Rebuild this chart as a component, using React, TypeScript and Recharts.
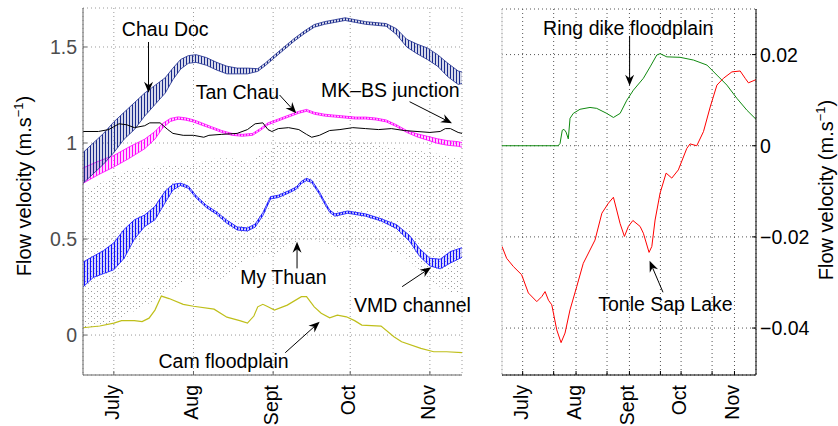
import React from "react";
import {
  ComposedChart,
  Area,
  Line,
  XAxis,
  YAxis,
  CartesianGrid,
  ReferenceLine,
  ReferenceDot,
} from "recharts";

const FONT = '"Liberation Sans", Arial, Helvetica, sans-serif';

// x values are day of year (June 19 = 170, Nov 13 ~ 317)
const monthTicks = [182, 213, 244, 274, 305];
const rightTicks = [182, 200, 213, 231, 244, 262, 274, 292, 305];
const monthNames: Record<number, string> = {
  182: "July",
  213: "Aug",
  244: "Sept",
  274: "Oct",
  305: "Nov",
};

// Chau Doc (tidal band: low / high envelope)
const chauDays = [170, 174, 178, 182, 186, 190, 194, 198, 202, 205, 208, 211, 214, 218, 222, 226, 230, 234, 238, 241, 244, 248, 252, 256, 260, 264, 268, 272, 276, 280, 284, 288, 292, 296, 300, 304, 308, 312, 316, 317.5];
const chauLo = [0.79, 0.84, 0.89, 0.95, 1.02, 1.07, 1.14, 1.2, 1.26, 1.33, 1.385, 1.415, 1.42, 1.405, 1.38, 1.36, 1.36, 1.36, 1.373, 1.403, 1.438, 1.483, 1.528, 1.568, 1.603, 1.618, 1.628, 1.638, 1.628, 1.618, 1.613, 1.608, 1.565, 1.5, 1.465, 1.435, 1.4, 1.345, 1.305, 1.31];
const chauHi = [0.95, 1.0, 1.05, 1.11, 1.16, 1.21, 1.26, 1.3, 1.34, 1.39, 1.435, 1.455, 1.46, 1.445, 1.42, 1.4, 1.39, 1.39, 1.387, 1.417, 1.452, 1.497, 1.542, 1.582, 1.617, 1.632, 1.642, 1.652, 1.642, 1.632, 1.627, 1.622, 1.595, 1.54, 1.515, 1.495, 1.46, 1.415, 1.375, 1.37];

// Tan Chau
const tanDays = [170, 176, 182, 188, 194, 198, 201, 204, 207, 210, 213, 216, 220, 224, 228, 232, 236, 239, 242, 246, 250, 254, 257, 260, 264, 268, 272, 276, 280, 284, 288, 292, 296, 300, 304, 308, 312, 316, 317.5];
const tanLo = [0.79, 0.835, 0.875, 0.92, 0.97, 1.02, 1.078, 1.112, 1.124, 1.119, 1.109, 1.094, 1.075, 1.055, 1.04, 1.035, 1.04, 1.065, 1.095, 1.115, 1.135, 1.155, 1.165, 1.15, 1.14, 1.135, 1.13, 1.125, 1.125, 1.12, 1.11, 1.085, 1.055, 1.032, 1.015, 0.998, 0.988, 0.983, 0.978];
const tanHi = [0.87, 0.905, 0.935, 0.98, 1.02, 1.06, 1.102, 1.128, 1.136, 1.131, 1.121, 1.106, 1.085, 1.065, 1.05, 1.045, 1.05, 1.075, 1.105, 1.125, 1.145, 1.165, 1.175, 1.16, 1.15, 1.145, 1.14, 1.135, 1.135, 1.13, 1.12, 1.095, 1.065, 1.048, 1.035, 1.022, 1.012, 1.007, 1.002];

// MK-BS junction
const mkDays = [170, 176, 180, 184, 187, 190, 194, 196, 200, 203, 205, 209, 213, 217, 219, 224, 230, 234, 237, 240, 242, 243.5, 246, 250, 254, 257, 259, 262, 266, 270, 275, 280, 285, 290, 295, 300, 305, 309, 311, 313, 316, 317.5];
const mkVals = [1.06, 1.06, 1.07, 1.1, 1.095, 1.08, 1.09, 1.105, 1.105, 1.07, 1.05, 1.04, 1.04, 1.03, 1.04, 1.045, 1.05, 1.07, 1.1, 1.105, 1.07, 1.06, 1.075, 1.08, 1.07, 1.045, 1.03, 1.04, 1.065, 1.07, 1.08, 1.075, 1.07, 1.075, 1.065, 1.06, 1.055, 1.06, 1.075, 1.075, 1.055, 1.05];

// VMD channel
const vmdDays = [170, 174, 178, 182, 186, 190, 194, 198, 202, 205, 208, 211, 214, 218, 222, 226, 230, 234, 237, 240, 243, 246, 250, 253, 255, 257, 259, 262, 264, 266, 268, 273, 280, 286, 292, 297, 301, 305, 309, 313, 317.5];
const vmdLo = [0.25, 0.3, 0.32, 0.34, 0.4, 0.5, 0.565, 0.6, 0.69, 0.755, 0.779, 0.764, 0.714, 0.664, 0.629, 0.582, 0.547, 0.542, 0.562, 0.622, 0.709, 0.716, 0.739, 0.759, 0.789, 0.804, 0.794, 0.734, 0.684, 0.639, 0.619, 0.634, 0.619, 0.594, 0.555, 0.49, 0.41, 0.36, 0.345, 0.375, 0.405];
const vmdHi = [0.38, 0.41, 0.44, 0.48, 0.55, 0.6, 0.625, 0.67, 0.75, 0.785, 0.791, 0.776, 0.726, 0.676, 0.641, 0.598, 0.563, 0.558, 0.578, 0.638, 0.721, 0.728, 0.751, 0.771, 0.801, 0.816, 0.806, 0.746, 0.696, 0.651, 0.631, 0.646, 0.631, 0.606, 0.575, 0.52, 0.45, 0.4, 0.395, 0.435, 0.455];

// My Thuan (dotted, strongly oscillating: envelope)
const mtDays = [170, 178, 186, 194, 202, 210, 216, 222, 228, 234, 240, 246, 252, 258, 264, 270, 276, 282, 288, 294, 300, 306, 312, 317.5];
const mtLo = [0.03, 0.05, 0.1, 0.15, 0.22, 0.28, 0.3, 0.28, 0.33, 0.4, 0.42, 0.42, 0.48, 0.5, 0.48, 0.45, 0.46, 0.45, 0.44, 0.42, 0.35, 0.28, 0.22, 0.22];
const mtHi = [0.75, 0.8, 0.85, 0.87, 0.88, 0.88, 0.9, 0.92, 0.92, 0.9, 0.95, 1.0, 1.0, 1.02, 1.02, 1.0, 1.0, 1.0, 0.98, 0.97, 0.96, 0.95, 0.93, 0.92];

// Cam floodplain
const camDays = [170, 176.5, 182, 185, 190, 193, 195.7, 198, 200.5, 203.5, 209, 213, 221, 226, 231, 234, 236.5, 238, 240, 242, 244.5, 249.5, 255, 257, 260, 262.7, 266, 269, 272.5, 275.7, 278.5, 286, 291, 294, 301.5, 306.5, 311.5, 317.5];
const camVals = [0.038, 0.047, 0.062, 0.075, 0.075, 0.07, 0.088, 0.13, 0.203, 0.19, 0.16, 0.15, 0.135, 0.093, 0.075, 0.062, 0.099, 0.147, 0.16, 0.147, 0.13, 0.156, 0.2, 0.2, 0.147, 0.114, 0.09, 0.104, 0.095, 0.075, 0.052, 0.047, -0.009, -0.035, -0.069, -0.087, -0.087, -0.092];

// Ring dike floodplain
const ringDays = [170, 202.6, 203.7, 205, 206, 207.2, 208.5, 209.5, 211.4, 215.3, 221.1, 225, 230.8, 234.7, 238.6, 242.5, 246.3, 252.1, 256, 259.9, 261.8, 265.7, 273.4, 281.2, 289, 294.8, 300.6, 306.4, 312.2, 317.5];
const ringVals = [0, 0, 0.0005, 0.0034, 0.0036, 0.003, 0.0015, 0.006, 0.0071, 0.008, 0.0084, 0.0082, 0.0071, 0.0062, 0.0071, 0.01, 0.0122, 0.0148, 0.0173, 0.0199, 0.0202, 0.0195, 0.0194, 0.0188, 0.0177, 0.0155, 0.0133, 0.0104, 0.0078, 0.0058];

// Tonle Sap Lake
const tonleDays = [170, 172.7, 176.6, 181.4, 185.3, 190.2, 193.1, 195, 197, 198.9, 201.8, 204.3, 206.6, 209.5, 213.4, 217.2, 224, 228, 231.8, 234.7, 236.6, 238.6, 241.1, 243.4, 246, 250.2, 252.1, 255.4, 257, 258.9, 261.8, 265.3, 268.6, 272.4, 277.3, 279.2, 283.1, 287, 290.9, 294.8, 298.6, 303.5, 308.3, 311.2, 313.1, 317.5];
const tonleVals = [-0.0221, -0.0247, -0.0265, -0.0283, -0.0323, -0.0342, -0.0331, -0.032, -0.0339, -0.0349, -0.0404, -0.0432, -0.0411, -0.036, -0.0309, -0.0258, -0.0207, -0.0148, -0.0126, -0.0113, -0.0141, -0.0171, -0.0199, -0.0177, -0.0164, -0.0177, -0.0192, -0.0234, -0.0221, -0.0163, -0.0104, -0.006, -0.0071, -0.0053, -0.0006, 0.0004, 0, 0.0031, 0.0085, 0.0133, 0.0148, 0.0162, 0.0164, 0.0148, 0.0138, 0.0145];

// annotations (text baseline centre, arrow tail -> tip), in data units
const leftNotes = [
  { text: "Chau Doc", day: 202.0, v: 1.557 },
  { text: "Tan Chau", day: 230.1, v: 1.229 },
  { text: "MK\u2013BS junction", day: 289.6, v: 1.241 },
  { text: "My Thuan", day: 248.0, v: 0.264 },
  { text: "VMD channel", day: 298.2, v: 0.121 },
  { text: "Cam floodplain", day: 224.7, v: -0.17 },
];
const leftArrows = [
  { from: [195.5, 1.526], to: [195.5, 1.262] },
  { from: [246.5, 1.25], to: [253.0, 1.155] },
  { from: [297.1, 1.215], to: [313.6, 1.103] },
  { from: [253.3, 0.347], to: [253.3, 0.486] },
  { from: [294.2, 0.252], to: [305.5, 0.353] },
  { from: [248.7, -0.092], to: [262.1, 0.069] },
];
const rightNotes = [
  { text: "Ring dike floodplain", day: 243.3, v: 0.02432 },
  { text: "Tonle Sap Lake", day: 264.9, v: -0.03616 },
];
const rightArrows = [
  { from: [244.1, 0.02409], to: [244.1, 0.01317] },
  { from: [263.5, -0.03215], to: [255.7, -0.02524] },
];

const band = (days: number[], lo: number[], hi: number[]) =>
  days.map((day, i) => ({ day, lo: lo[i], hi: hi[i] }));
const series = (days: number[], vals: number[]) =>
  days.map((day, i) => ({ day, v: vals[i] }));

const chauData = band(chauDays, chauLo, chauHi);
const tanData = band(tanDays, tanLo, tanHi);
const vmdData = band(vmdDays, vmdLo, vmdHi);
const mtData = band(mtDays, mtLo, mtHi);
const mkData = series(mkDays, mkVals);
const camData = series(camDays, camVals);
const ringData = series(ringDays, ringVals);
const tonleData = series(tonleDays, tonleVals);

const range = (d: { lo: number; hi: number }) => [d.lo, d.hi];

function MonthTick(props: any) {
  const { x, y, payload } = props;
  const label = monthNames[payload.value];
  if (!label) return null;
  return (
    <text
      x={x}
      y={y}
      dy={5}
      transform={`rotate(-90 ${x} ${y})`}
      textAnchor="end"
      fontSize={19.5}
      fontFamily={FONT}
      fill="#000"
    >
      {label}
    </text>
  );
}

function Arrow(props: any) {
  const { x1, y1, x2, y2 } = props;
  const dx = x2 - x1;
  const dy = y2 - y1;
  const len = Math.sqrt(dx * dx + dy * dy) || 1;
  const ux = dx / len;
  const uy = dy / len;
  const L = 11;
  const w = 4.5;
  const bx = x2 - ux * L;
  const by = y2 - uy * L;
  const nx = x2 - ux * (L - 3.5);
  const ny = y2 - uy * (L - 3.5);
  return (
    <g>
      <line x1={x1} y1={y1} x2={nx} y2={ny} stroke="#000" strokeWidth={1} />
      <polygon
        points={`${x2},${y2} ${bx - uy * w},${by + ux * w} ${nx},${ny} ${bx + uy * w},${by - ux * w}`}
        fill="#000"
      />
    </g>
  );
}

const noteShape = (text: string) => (p: any) =>
  (
    <text
      x={p.cx}
      y={p.cy}
      textAnchor="middle"
      fontSize={19.5}
      fontFamily={FONT}
      fill="#000"
    >
      {text}
    </text>
  );

const fmtRight = (v: number) =>
  v < 0 ? "\u2212" + Math.abs(v) : String(v);

// vertical hatching, stands in for the dense tidal zig-zag
function Hatch({ id, color }: { id: string; color: string }) {
  return (
    <pattern id={id} width="3" height="2" patternUnits="userSpaceOnUse">
      <rect x="0" y="0" width="3" height="2" fill={color} fillOpacity={0.18} />
      <rect x="0" y="0" width="1" height="2" fill={color} />
    </pattern>
  );
}

export default function App() {
  return (
    <div
      style={{
        position: "absolute",
        left: 0,
        top: 0,
        width: 838,
        height: 426,
        background: "#fff",
        overflow: "hidden",
      }}
    >
      <div style={{ position: "absolute", left: 0, top: 0 }}>
        <ComposedChart
          width={480}
          height={426}
          margin={{ top: 8, right: 18, bottom: 0, left: 33 }}
        >
          <defs>
            <pattern id="mtDots" width="6" height="5" patternUnits="userSpaceOnUse">
              <rect x="1" y="1" width="1" height="1" fill="#999" />
              <rect x="4" y="3" width="1" height="1" fill="#aaa" />
            </pattern>
            <Hatch id="hatchNavy" color="#1a2a8c" />
            <Hatch id="hatchMag" color="#ff00ff" />
            <Hatch id="hatchBlue" color="#1010ff" />
          </defs>
          <CartesianGrid stroke="#9a9a9a" strokeDasharray="1 3" />
          <XAxis
            dataKey="day"
            type="number"
            domain={[170, 317.5]}
            ticks={monthTicks}
            interval={0}
            allowDataOverflow
            height={51}
            stroke="#666"
            tickSize={-4}
            tickMargin={14}
            tick={<MonthTick />}
          />
          <YAxis
            type="number"
            domain={[-0.208, 1.703]}
            ticks={[0, 0.5, 1, 1.5]}
            allowDataOverflow
            width={50}
            stroke="#666"
            tickSize={-4}
            tickMargin={10}
            tick={{ fill: "#4d4d4d", fontSize: 19.5, fontFamily: FONT }}
          />
          <Area
            data={mtData}
            dataKey={range}
            type="linear"
            stroke="none"
            fill="url(#mtDots)"
            fillOpacity={1}
            dot={false}
            activeDot={false}
            isAnimationActive={false}
          />
          <Line
            data={camData}
            dataKey="v"
            type="linear"
            stroke="#bfbf1a"
            strokeWidth={1.2}
            dot={false}
            activeDot={false}
            isAnimationActive={false}
          />
          <Area
            data={vmdData}
            dataKey={range}
            type="linear"
            stroke="#1010ff"
            strokeWidth={0.8}
            fill="url(#hatchBlue)"
            fillOpacity={1}
            dot={false}
            activeDot={false}
            isAnimationActive={false}
          />
          <Line
            data={mkData}
            dataKey="v"
            type="linear"
            stroke="#000"
            strokeWidth={1}
            dot={false}
            activeDot={false}
            isAnimationActive={false}
          />
          <Area
            data={tanData}
            dataKey={range}
            type="linear"
            stroke="#ff00ff"
            strokeWidth={0.8}
            fill="url(#hatchMag)"
            fillOpacity={1}
            dot={false}
            activeDot={false}
            isAnimationActive={false}
          />
          <Area
            data={chauData}
            dataKey={range}
            type="linear"
            stroke="#1a2a8c"
            strokeWidth={0.8}
            fill="url(#hatchNavy)"
            fillOpacity={1}
            dot={false}
            activeDot={false}
            isAnimationActive={false}
          />
          {leftArrows.map((a, i) => (
            <ReferenceLine
              key={`la${i}`}
              segment={[
                { x: a.from[0], y: a.from[1] },
                { x: a.to[0], y: a.to[1] },
              ]}
              ifOverflow="visible"
              shape={(p: any) => <Arrow {...p} />}
            />
          ))}
          {leftNotes.map((n) => (
            <ReferenceDot
              key={n.text}
              x={n.day}
              y={n.v}
              r={0}
              ifOverflow="visible"
              shape={noteShape(n.text)}
            />
          ))}
        </ComposedChart>
      </div>

      <div style={{ position: "absolute", left: 480, top: 0 }}>
        <ComposedChart
          width={358}
          height={426}
          margin={{ top: 9, right: 22, bottom: 0, left: 22 }}
        >
          <CartesianGrid stroke="#555" strokeDasharray="1 3" />
          <XAxis
            dataKey="day"
            type="number"
            domain={[170, 317.5]}
            ticks={rightTicks}
            interval={0}
            allowDataOverflow
            height={51}
            stroke="#000"
            tickSize={-4}
            tickMargin={14}
            tick={<MonthTick />}
          />
          <YAxis
            type="number"
            orientation="right"
            domain={[-0.0503, 0.03]}
            ticks={[-0.04, -0.02, 0, 0.02]}
            allowDataOverflow
            width={60}
            stroke="#000"
            tickSize={-4}
            tickMargin={8}
            tickFormatter={fmtRight}
            tick={{ fill: "#000", fontSize: 19.5, fontFamily: FONT }}
          />
          <ReferenceLine x={170} stroke="#dddddd" />
          <Line
            data={ringData}
            dataKey="v"
            type="linear"
            stroke="#108a10"
            strokeWidth={1}
            dot={false}
            activeDot={false}
            isAnimationActive={false}
          />
          <Line
            data={tonleData}
            dataKey="v"
            type="linear"
            stroke="#ff0000"
            strokeWidth={1}
            dot={false}
            activeDot={false}
            isAnimationActive={false}
          />
          {rightArrows.map((a, i) => (
            <ReferenceLine
              key={`ra${i}`}
              segment={[
                { x: a.from[0], y: a.from[1] },
                { x: a.to[0], y: a.to[1] },
              ]}
              ifOverflow="visible"
              shape={(p: any) => <Arrow {...p} />}
            />
          ))}
          {rightNotes.map((n) => (
            <ReferenceDot
              key={n.text}
              x={n.day}
              y={n.v}
              r={0}
              ifOverflow="visible"
              shape={noteShape(n.text)}
            />
          ))}
        </ComposedChart>
      </div>

      <svg
        width={838}
        height={426}
        style={{ position: "absolute", left: 0, top: 0, pointerEvents: "none" }}
      >
        <text
          transform="translate(31,186) rotate(-90)"
          textAnchor="middle"
          fontSize={20}
          fontFamily={FONT}
          fill="#000"
        >
          Flow velocity (m.s
          <tspan dy={-8} fontSize={13}>
            {"\u22121"}
          </tspan>
          <tspan dy={8}>)</tspan>
        </text>
        <text
          transform="translate(833,190) rotate(-90)"
          textAnchor="middle"
          fontSize={20}
          fontFamily={FONT}
          fill="#000"
        >
          Flow velocity (m.s
          <tspan dy={-8} fontSize={13}>
            {"\u22121"}
          </tspan>
          <tspan dy={8}>)</tspan>
        </text>
      </svg>
    </div>
  );
}
